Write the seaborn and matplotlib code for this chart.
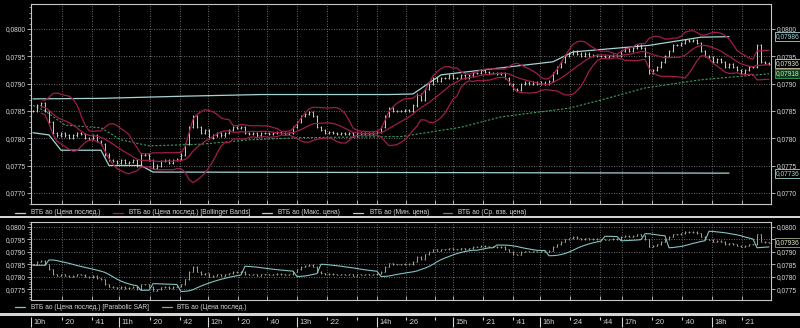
import numpy as np
import pandas as pd
import matplotlib
matplotlib.use("Agg")
import matplotlib.pyplot as plt
import matplotlib.transforms as mtransforms
from matplotlib.lines import Line2D
from matplotlib.patches import Rectangle
from matplotlib.ticker import FuncFormatter, MultipleLocator
import seaborn as sns

# ---------------- data ----------------
close = [
    0.07850, 0.07860, 0.07865, 0.07850, 0.07830, 0.07810, 0.07805, 0.07810, 0.07805, 0.07800,
    0.07805, 0.07810, 0.07808, 0.07800, 0.07798, 0.07805, 0.07795, 0.07790, 0.07770, 0.07760,
    0.07758, 0.07755, 0.07760, 0.07755, 0.07757, 0.07760, 0.07750, 0.07770, 0.07770, 0.07760,
    0.07745, 0.07750, 0.07758, 0.07760, 0.07755, 0.07760, 0.07762, 0.07770, 0.07790, 0.07820,
    0.07840, 0.07820, 0.07810, 0.07815, 0.07800, 0.07805, 0.07810, 0.07805, 0.07810, 0.07815,
    0.07820, 0.07818, 0.07820, 0.07810, 0.07808, 0.07810, 0.07805, 0.07810, 0.07810, 0.07808,
    0.07810, 0.07812, 0.07810, 0.07808, 0.07810, 0.07820, 0.07830, 0.07840, 0.07845, 0.07848,
    0.07840, 0.07820, 0.07815, 0.07810, 0.07812, 0.07810, 0.07808, 0.07810, 0.07808, 0.07810,
    0.07805, 0.07810, 0.07808, 0.07810, 0.07808, 0.07810, 0.07812, 0.07820, 0.07840, 0.07855,
    0.07850, 0.07850, 0.07850, 0.07852, 0.07850, 0.07860, 0.07880, 0.07870, 0.07890, 0.07900,
    0.07910, 0.07905, 0.07910, 0.07910, 0.07915, 0.07910, 0.07910, 0.07915, 0.07910, 0.07915,
    0.07920, 0.07920, 0.07925, 0.07922, 0.07920, 0.07920, 0.07918, 0.07920, 0.07910, 0.07900,
    0.07890, 0.07888, 0.07900, 0.07902, 0.07900, 0.07903, 0.07900, 0.07902, 0.07900, 0.07905,
    0.07920, 0.07930, 0.07940, 0.07950, 0.07955, 0.07960, 0.07955, 0.07950, 0.07955, 0.07950,
    0.07952, 0.07950, 0.07950, 0.07948, 0.07950, 0.07952, 0.07950, 0.07960, 0.07965, 0.07960,
    0.07965, 0.07970, 0.07965, 0.07950, 0.07920, 0.07925, 0.07930, 0.07940, 0.07950, 0.07960,
    0.07970, 0.07970, 0.07975, 0.07980, 0.07978, 0.07980, 0.07975, 0.07960, 0.07950, 0.07948,
    0.07940, 0.07945, 0.07940, 0.07930, 0.07935, 0.07930, 0.07925, 0.07920, 0.07925, 0.07930,
    0.07930, 0.07970, 0.07940, 0.07938, 0.07936,
]

# max-price line (bar index, value)
max_idx = [0, 17, 38, 57, 89, 95, 102, 130, 135, 154, 167, 174]
max_val = [0.07872, 0.07873, 0.07877, 0.07880, 0.07880, 0.07881, 0.07916, 0.07940,
           0.07958, 0.07970, 0.07985, 0.07986]

# min-price line
min_idx = [0, 4, 7, 17, 19, 27, 30, 174]
min_val = [0.07810, 0.07806, 0.07778, 0.07778, 0.07750, 0.07750, 0.07738, 0.07736]

# volume-weighted average price
vwap_idx = [0, 3, 8, 17, 22, 29, 42, 54, 67, 92, 107, 117, 134, 142, 153, 167, 184]
vwap_val = [0.07860, 0.07850, 0.07824, 0.07819, 0.07797, 0.07786, 0.07789, 0.07797,
            0.07801, 0.07803, 0.07820, 0.07839, 0.07855, 0.07870, 0.07892, 0.07907, 0.07918]

# time axis
tick_pos = [-0.5, 7.25, 14.75, 21.5, 29.25, 36.75, 43.75, 51.25, 58.5, 66, 73.5, 81, 86,
            93.25, 100.5, 105, 112.5, 120, 126.75, 134.25, 141.75, 147.25, 154.75, 162.25,
            169.75, 177.25]
tick_lab = ["10h", ":20", ":41", "11h", ":20", ":42", "12h", ":20", ":40", "13h", ":22", "",
            "14h", ":26", "", "15h", ":21", ":41", "16h", ":24", ":44", "17h", ":20", ":40",
            "18h", ":21"]

top_labels = ["ВТБ ао (Цена послед.)", "ВТБ ао (Цена послед.) [Bollinger Bands]",
              "ВТБ ао (Макс. цена)", "ВТБ ао (Мин. цена)", "ВТБ ао (Ср. взв. цена)"]
bot_labels = ["ВТБ ао (Цена послед.) [Parabolic SAR]", "ВТБ ао (Цена послед.)"]

# ---------------- derived series ----------------
n = len(close)
idx = np.arange(n)
c = np.array(close)
o = np.concatenate([[c[0]], c[:-1]])
hi = np.maximum(o, c)
lo = np.minimum(o, c)

s = pd.Series(c)
mid = s.rolling(10, min_periods=3).mean()
sd = s.rolling(10, min_periods=3).std(ddof=0)
upper = mid + 2 * sd
lower = mid - 2 * sd


def psar(high, low, step=0.02, amax=0.2):
    m = len(high)
    out = np.zeros(m)
    bull = True
    af = step
    ep = high[0]
    out[0] = low[0]
    for i in range(1, m):
        prev = out[i - 1]
        v = prev + af * (ep - prev)
        if bull:
            v = min(v, low[i - 1], low[max(i - 2, 0)])
            if low[i] < v:
                bull, v, ep, af = False, ep, low[i], step
            elif high[i] > ep:
                ep, af = high[i], min(af + step, amax)
        else:
            v = max(v, high[i - 1], high[max(i - 2, 0)])
            if high[i] > v:
                bull, v, ep, af = True, ep, high[i], step
            elif low[i] < ep:
                ep, af = low[i], min(af + step, amax)
        out[i] = v
    return out


sar = psar(hi + 0.00003, lo - 0.00003)

# ---------------- style ----------------
sns.set_theme(style="dark", rc={"axes.facecolor": "black", "figure.facecolor": "black"})
plt.rcParams["font.family"] = ["Liberation Sans", "DejaVu Sans"]
FS = 4.8
TXT = "#d8d8d8"
SPINE = "#c8c8c8"
GRID = "#8c8c8c"
PRICE = "#d2d2a4"
PRICE2 = "#a4a47c"
BOLL = "#a01c4c"
CYAN = "#a6d4d4"
GREEN = "#3c9c5c"
SARC = "#82c4c4"

W, H = 800, 328
fig = plt.figure(figsize=(W / 100, H / 100), dpi=100, facecolor="black")


def fy(py):
    return (H - py) / H


ax1 = fig.add_axes([31 / W, fy(204), 740 / W, 200 / H])
ax2 = fig.add_axes([31 / W, fy(300), 740 / W, 78 / H])

fmt = FuncFormatter(lambda v, p: f"{v:.4f}".replace(".", ","))


def style_axes(ax, ylo, yhi, ticks):
    ax.set_facecolor("black")
    ax.set_xlim(-0.5, n - 0.5)
    ax.set_ylim(ylo, yhi)
    ax.set_yticks(ticks)
    ax.set_xticks(tick_pos[1:])
    ax.yaxis.set_major_formatter(fmt)
    ax.yaxis.set_minor_locator(MultipleLocator(0.0001))
    ax.tick_params(axis="y", which="major", left=True, right=True, labelleft=True,
                   labelright=True, length=3, width=0.6, color=SPINE, labelcolor=TXT,
                   labelsize=FS, pad=1, direction="out")
    ax.tick_params(axis="y", which="minor", left=True, right=False, length=1.5,
                   width=0.5, color=SPINE)
    ax.tick_params(axis="x", which="major", bottom=True, labelbottom=False, length=3,
                   width=0.6, color=SPINE, direction="in")
    ax.grid(True, which="major", color=GRID, linestyle=(0, (1, 2)), linewidth=0.6)
    for sp in ax.spines.values():
        sp.set_color(SPINE)
        sp.set_linewidth(0.8)
        sp.set_visible(True)


style_axes(ax1, 0.076795, 0.080458, np.arange(0.0770, 0.08001, 0.0005))
style_axes(ax2, 0.07708, 0.0802, np.arange(0.0775, 0.08001, 0.0005))


def draw_bars(ax, color):
    ax.vlines(idx, lo - 0.00002, hi + 0.00002, color=color, lw=0.7, zorder=3)
    ax.hlines(o, idx - 0.3, idx, color=color, lw=0.5, zorder=3)
    ax.hlines(c, idx, idx + 0.3, color=color, lw=0.5, zorder=3)


# ---- top panel ----
sns.lineplot(x=min_idx, y=min_val, ax=ax1, color=CYAN, lw=0.9, zorder=2, legend=False)
sns.lineplot(x=max_idx, y=max_val, ax=ax1, color=CYAN, lw=0.9, zorder=2, legend=False)
sns.lineplot(x=vwap_idx, y=vwap_val, ax=ax1, color=GREEN, lw=0.8, zorder=2,
             linestyle=(0, (2, 1.5)), legend=False)
for band in (upper, mid, lower):
    sns.lineplot(x=idx, y=band.values, ax=ax1, color=BOLL, lw=0.9, zorder=4, legend=False)
draw_bars(ax1, PRICE)

# ---- bottom panel ----
draw_bars(ax2, PRICE2)
sns.lineplot(x=idx, y=sar, ax=ax2, color=SARC, lw=0.8, zorder=4, legend=False)

for ax in (ax1, ax2):
    ax.set_xlabel("")
    ax.set_ylabel("")
    ax.set_xlim(-0.5, n - 0.5)

# ---- value boxes on the right ----
def vbox(ax, val, ec, tc, fc="black"):
    tr = mtransforms.blended_transform_factory(ax.transAxes, ax.transData)
    ax.text(1.0065, val, f"{val:.5f}".replace(".", ","), transform=tr, fontsize=FS,
            color=tc, va="center", ha="left", clip_on=False, zorder=10,
            bbox=dict(boxstyle="square,pad=0.15", fc=fc, ec=ec, lw=0.6))


vbox(ax1, max_val[-1], CYAN, CYAN)
vbox(ax1, close[-1], PRICE, "#e8e8d0")
vbox(ax1, vwap_val[-1], GREEN, "#b8e8c0", fc="#143c1c")
vbox(ax1, min_val[-1], CYAN, CYAN)
vbox(ax2, close[-1], PRICE2, "#e8e8d0")

# ---- separators ----
fig.add_artist(Rectangle((0, fy(218.4)), 1, 2.6 / H, transform=fig.transFigure,
                         color="#d4d4d4", lw=0))
fig.add_artist(Rectangle((0, fy(315.8)), 1, 2.6 / H, transform=fig.transFigure,
                         color="#d4d4d4", lw=0))

# ---- legends ----
def legend_row(py, items):
    for (x0, x1, tx), col, lab in items:
        fig.add_artist(Line2D([x0 / W, x1 / W], [fy(py), fy(py)], color=col, lw=0.9,
                              transform=fig.transFigure))
        fig.text(tx / W, fy(py), lab, color=TXT, fontsize=FS, va="center", ha="left")


legend_row(212.7, [((15, 25, 31), PRICE, top_labels[0]),
                   ((113, 123, 129), BOLL, top_labels[1]),
                   ((262, 272, 278), CYAN, top_labels[2]),
                   ((353, 363, 370), CYAN, top_labels[3]),
                   ((443, 452, 458), GREEN, top_labels[4])])
legend_row(307.3, [((15, 25, 31), SARC, bot_labels[0]),
                   ((162, 172, 177), PRICE2, bot_labels[1])])

# ---- time strip ----
ax3 = fig.add_axes([31 / W, 0, 740 / W, 12 / H])
ax3.set_xlim(-0.5, n - 0.5)
ax3.set_ylim(0, 1)
ax3.set_facecolor("black")
ax3.axis("off")
for p, lab in zip(tick_pos, tick_lab):
    if lab.endswith("h"):
        ax3.vlines(p, 0.05, 0.95, color=TXT, lw=0.8)
    else:
        ax3.vlines(p, 0.65, 0.95, color=TXT, lw=0.8)
    if lab:
        ax3.text(p + 0.6, 0.45, lab, color=TXT, fontsize=FS + 0.4, va="center", ha="left")

fig.savefig("out.png", dpi=100, facecolor="black")
